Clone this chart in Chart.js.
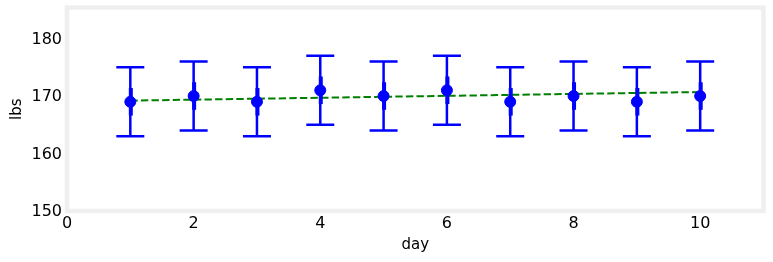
<!DOCTYPE html>
<html>
<head>
<meta charset="utf-8">
<script src="https://cdn.jsdelivr.net/npm/chart.js@4"></script>
<style>
  html, body { margin: 0; padding: 0; background: #fff; }
</style>
</head>
<body>
<canvas id="weightChart" width="773" height="262"></canvas>
<script>
const days = [1, 2, 3, 4, 5, 6, 7, 8, 9, 10];
const weights = [169, 170, 169, 171, 170, 171, 169, 170, 169, 170];
const outerErr = [6, 6, 6, 6, 6, 6, 6, 6, 6, 6];
const innerErr = [2.4, 2.4, 2.4, 2.4, 2.4, 2.4, 2.4, 2.4, 2.4, 2.4];
const trendDays = [1, 10];
const trendWeights = [169.2, 170.7];
const xTicks = [0, 2, 4, 6, 8, 10];
const yTicks = [150, 160, 170, 180];

// light grey frame round the plot area
const frame = {
  id: 'frame',
  beforeDatasetsDraw(chart) {
    const a = chart.chartArea, ctx = chart.ctx;
    ctx.save();
    ctx.strokeStyle = '#efefef';
    ctx.lineWidth = 4.5;
    ctx.strokeRect(a.left, a.top, a.right - a.left, a.bottom - a.top);
    ctx.restore();
  }
};

// error bars: thin capped bar plus a short thicker inner bar
const errorBars = {
  id: 'errorBars',
  afterDatasetsDraw(chart) {
    const ctx = chart.ctx, xs = chart.scales.x, ys = chart.scales.y;
    ctx.save();
    ctx.strokeStyle = '#0000ff';
    days.forEach((d, i) => {
      const px = xs.getPixelForValue(d);
      const top = ys.getPixelForValue(weights[i] + outerErr[i]);
      const bot = ys.getPixelForValue(weights[i] - outerErr[i]);
      ctx.lineWidth = 2.5;
      ctx.beginPath();
      ctx.moveTo(px, top); ctx.lineTo(px, bot);
      ctx.moveTo(px - 14, top); ctx.lineTo(px + 14, top);
      ctx.moveTo(px - 14, bot); ctx.lineTo(px + 14, bot);
      ctx.stroke();
      ctx.lineWidth = 4;
      ctx.beginPath();
      ctx.moveTo(px + 0.5, ys.getPixelForValue(weights[i] + innerErr[i]));
      ctx.lineTo(px + 0.5, ys.getPixelForValue(weights[i] - innerErr[i]));
      ctx.stroke();
    });
    ctx.restore();
  }
};

const font = { family: 'DejaVu Sans', size: 16 };
const titleFont = { family: 'DejaVu Sans', size: 15 };

new Chart(document.getElementById('weightChart').getContext('2d'), {
  type: 'scatter',
  data: {
    datasets: [{
      data: days.map((d, i) => ({ x: d, y: weights[i] })),
      backgroundColor: '#0000ff',
      borderColor: '#0000ff',
      pointRadius: 5.5,
      order: 1
    }, {
      type: 'line',
      data: trendDays.map((d, i) => ({ x: d, y: trendWeights[i] })),
      borderColor: '#008000',
      borderWidth: 2,
      borderDash: [7.4, 3.2],
      pointRadius: 0,
      fill: false,
      order: 2
    }]
  },
  options: {
    responsive: false,
    animation: false,
    layout: { padding: { top: 7.5, right: 9.5, left: 0, bottom: 0 } },
    plugins: { legend: { display: false }, tooltip: { enabled: false } },
    scales: {
      x: {
        type: 'linear',
        min: 0,
        max: 11,
        afterBuildTicks: s => { s.ticks = xTicks.map(v => ({ value: v })); },
        afterFit: s => { s.height = 51; s.paddingLeft = 0; s.paddingRight = 0; },
        grid: { display: false, drawTicks: false, tickLength: 0 },
        border: { display: false },
        ticks: { font: font, color: '#000', padding: 3.5, maxRotation: 0 },
        title: { display: true, text: 'day', font: titleFont, color: '#000', padding: { top: 0, bottom: 8 } }
      },
      y: {
        min: 150,
        max: 185.4,
        afterBuildTicks: s => { s.ticks = yTicks.map(v => ({ value: v })); },
        afterFit: s => { s.width = 67; s.paddingTop = 0; s.paddingBottom = 0; },
        grid: { display: false, drawTicks: false, tickLength: 0 },
        border: { display: false },
        ticks: { font: font, color: '#000', padding: 5, labelOffset: 1 },
        title: { display: true, text: 'lbs', font: titleFont, color: '#000', padding: { top: 8.5, bottom: 0 } }
      }
    }
  },
  plugins: [frame, errorBars]
});
</script>
</body>
</html>
